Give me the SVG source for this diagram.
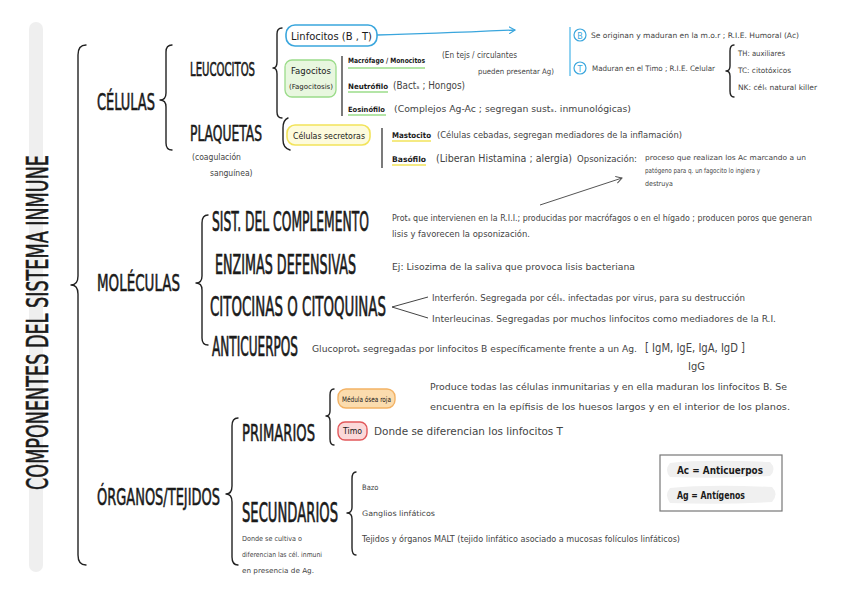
<svg xmlns="http://www.w3.org/2000/svg" width="848" height="599" viewBox="0 0 848 599">
<style>
.h{font-family:"DejaVu Sans Condensed","DejaVu Sans",sans-serif;font-stretch:condensed;fill:#1a1a1a;}
.k{font-family:"DejaVu Sans Condensed","DejaVu Sans",sans-serif;font-stretch:condensed;fill:#1a1a1a;stroke:#1a1a1a;stroke-width:0.35;}
.s{font-family:"DejaVu Sans Condensed","DejaVu Sans",sans-serif;font-stretch:condensed;fill:#444;}
.b{fill:none;stroke:#222;stroke-width:1.4;stroke-linecap:round;stroke-linejoin:round;}
.ln{stroke:#333;stroke-width:1.3;fill:none;}
</style>
<defs>
<marker id="ah" markerWidth="8" markerHeight="8" refX="6" refY="4" orient="auto" markerUnits="userSpaceOnUse"><path d="M0,0.5 L6,4 L0,7.5" fill="none" stroke="#555" stroke-width="1"/></marker>
<marker id="ahb" markerWidth="8" markerHeight="8" refX="6" refY="4" orient="auto" markerUnits="userSpaceOnUse"><path d="M0,0.5 L6,4 L0,7.5" fill="none" stroke="#3aa6dd" stroke-width="1.2"/></marker>
</defs>
<rect width="848" height="599" fill="#fff"/>
<rect x="29" y="22" width="14" height="550" rx="7" fill="#efefef"/>
<g id="title"><text class="k" transform="translate(48,490) rotate(-90) scale(1,1.55)" font-size="19.6" textLength="335" lengthAdjust="spacingAndGlyphs">COMPONENTES DEL SISTEMA INMUNE</text></g>

<g id="connectors">
<path class="b" d="M86,45 Q78,45 78,55 L78,276 Q78,285 71,285 Q78,285 78,294 L78,555 Q78,565 86,565"/>
<path class="b" d="M172,45 Q166,45 166,52 L166,93 Q166,100 160,100 Q166,100 166,107 L166,143 Q166,150 172,150"/>
<path class="b" d="M282,28 Q277,28 277,34 L277,62 Q277,68 273,68 Q277,68 277,74 L277,112 Q277,118 282,118"/>
<path class="b" d="M288,118 Q283,120 283,128 L283,140 Q283,148 290,150"/>
<line class="ln" x1="342" y1="56" x2="342" y2="116"/>
<line class="ln" x1="382" y1="128" x2="382" y2="168"/>
<line x1="570" y1="27" x2="570" y2="76" stroke="#6cc3ec" stroke-width="1.5"/>
<path class="b" d="M734,45 Q730,45 730,51 L730,66 Q730,71 726,71 Q730,71 730,76 L730,91 Q730,97 734,97"/>
<path d="M377,35 C420,34 470,32 515,30" fill="none" stroke="#3aa6dd" stroke-width="1.3" marker-end="url(#ahb)"/>
<path d="M540,205 L622,178" fill="none" stroke="#555" stroke-width="1" marker-end="url(#ah)"/>
<path class="b" d="M208,215 Q202,215 202,223 L202,276 Q202,283 196,283 Q202,283 202,290 L202,338 Q202,345 208,345"/>
<path d="M428,297 L392,307 L428,318" fill="none" stroke="#444" stroke-width="1"/>
<path class="b" d="M238,418 Q232,418 232,426 L232,486 Q232,494 226,494 Q232,494 232,502 L232,557 Q232,565 238,565"/>
<path class="b" d="M334,389 Q330,389 330,395 L330,411 Q330,416 326,416 Q330,416 330,421 L330,439 Q330,445 334,445"/>
<path class="b" d="M356,472 Q352,472 352,479 L352,507 Q352,513 347,513 Q352,513 352,519 L352,548 Q352,555 356,555"/>
<line x1="348" y1="68" x2="425" y2="68" stroke="#9bdc8a" stroke-width="1.5"/>
<line x1="348" y1="92" x2="388" y2="92" stroke="#9bdc8a" stroke-width="1.5"/>
<line x1="348" y1="115" x2="386" y2="115" stroke="#9bdc8a" stroke-width="1.5"/>
<line x1="392" y1="141" x2="431" y2="141" stroke="#f2e35a" stroke-width="1.5"/>
<line x1="392" y1="165" x2="426" y2="165" stroke="#f2e35a" stroke-width="1.5"/>
</g>

<g id="celulas"><text class="k" transform="translate(97,110) scale(1,1.63)" font-size="14.3" textLength="58" lengthAdjust="spacingAndGlyphs">CÉLULAS</text></g>
<g id="leucocitos"><text class="k" transform="translate(190,76) scale(1,1.8)" font-size="11.2" textLength="65" lengthAdjust="spacingAndGlyphs">LEUCOCITOS</text></g>
<g id="plaquetas"><text class="k" transform="translate(190,141) scale(1,1.55)" font-size="13.5" textLength="72" lengthAdjust="spacingAndGlyphs">PLAQUETAS</text>
<text class="s" x="192" y="160" font-size="8.5">(coagulación</text><text class="s" x="210" y="176" font-size="8.5">sanguínea)</text></g>

<g id="linfocitos"><rect x="286" y="25" width="91" height="21" rx="9" fill="#fff" stroke="#3aa6dd" stroke-width="1.6"/>
<text class="h" x="291" y="40" font-size="10.5" textLength="81" lengthAdjust="spacingAndGlyphs">Linfocitos    (B , T)</text></g>
<g id="fagocitos"><rect x="285" y="60" width="51" height="37" rx="7" fill="#e8f7df" stroke="#9bdc8a" stroke-width="1.3"/>
<text class="h" x="291" y="74" font-size="9" textLength="40" lengthAdjust="spacingAndGlyphs">Fagocitos</text><text class="h" x="289" y="89" font-size="7" textLength="44" lengthAdjust="spacingAndGlyphs">(Fagocitosis)</text></g>
<g id="macrofago"><text class="h" x="348" y="63" font-size="7.2" font-weight="bold" textLength="77" lengthAdjust="spacingAndGlyphs">Macrófago / Monocitos</text>
<text class="s" x="442" y="58" font-size="8" textLength="75" lengthAdjust="spacingAndGlyphs">(En tejs / circulantes</text>
<text class="s" x="478" y="74" font-size="7.5" textLength="76" lengthAdjust="spacingAndGlyphs">pueden presentar Ag)</text></g>
<g id="neutrofilo"><text class="h" x="348" y="89" font-size="7.4" font-weight="bold" textLength="40" lengthAdjust="spacingAndGlyphs">Neutrófilo</text>
<text class="s" x="393" y="89" font-size="10.5" textLength="72" lengthAdjust="spacingAndGlyphs">(Bactₛ ; Hongos)</text></g>
<g id="eosinofilo"><text class="h" x="348" y="112" font-size="7.2" font-weight="bold" textLength="37" lengthAdjust="spacingAndGlyphs">Eosinófilo</text>
<text class="s" x="394" y="112" font-size="9.5" textLength="237" lengthAdjust="spacingAndGlyphs">(Complejos Ag-Ac ; segregan sustₛ. inmunológicas)</text></g>

<g id="linfB"><circle cx="580" cy="35" r="6" fill="#fff" stroke="#3aa6dd" stroke-width="1.2"/><text x="580" y="38.5" font-size="8" text-anchor="middle" fill="#3aa6dd" font-family="DejaVu Sans,sans-serif">B</text>
<text class="s" x="591" y="38" font-size="7.5" textLength="208" lengthAdjust="spacingAndGlyphs">Se originan  y  maduran  en la m.o.r ; R.I.E. Humoral  (Ac)</text></g>
<g id="linfT"><circle cx="580" cy="68" r="6" fill="#fff" stroke="#3aa6dd" stroke-width="1.2"/><text x="580" y="71.5" font-size="8" text-anchor="middle" fill="#3aa6dd" font-family="DejaVu Sans,sans-serif">T</text>
<text class="s" x="592" y="71" font-size="7.5" textLength="123" lengthAdjust="spacingAndGlyphs">Maduran en el Timo ; R.I.E. Celular</text></g>
<g id="subtipos"><text class="s" x="738" y="56" font-size="7.5" textLength="47" lengthAdjust="spacingAndGlyphs">TH: auxiliares</text>
<text class="s" x="738" y="73" font-size="7.5" textLength="53" lengthAdjust="spacingAndGlyphs">TC: citotóxicos</text>
<text class="s" x="738" y="90" font-size="7.5" textLength="79" lengthAdjust="spacingAndGlyphs">NK: célₛ natural killer</text></g>

<g id="secretoras"><rect x="287" y="125" width="83" height="20" rx="8" fill="#fdfbdc" stroke="#f2e35a" stroke-width="1.6"/>
<text class="h" x="293" y="139" font-size="8.5" textLength="72" lengthAdjust="spacingAndGlyphs">Células   secretoras</text></g>
<g id="mastocito"><text class="h" x="392" y="138" font-size="7.8" font-weight="bold" textLength="39" lengthAdjust="spacingAndGlyphs">Mastocito</text>
<text class="s" x="437" y="138" font-size="9.5" textLength="245" lengthAdjust="spacingAndGlyphs">(Células cebadas, segregan mediadores de la inflamación)</text></g>
<g id="basofilo"><text class="h" x="392" y="162" font-size="7.8" font-weight="bold" textLength="34" lengthAdjust="spacingAndGlyphs">Basófilo</text>
<text class="s" x="436" y="162" font-size="10.5" textLength="136" lengthAdjust="spacingAndGlyphs">(Liberan Histamina ; alergia)</text>
<text class="s" x="577" y="162" font-size="9.5" textLength="60" lengthAdjust="spacingAndGlyphs">Opsonización:</text>
<text class="s" x="645" y="160" font-size="7" textLength="161" lengthAdjust="spacingAndGlyphs">proceso que realizan los Ac marcando a un</text>
<text class="s" x="645" y="173" font-size="7" textLength="115" lengthAdjust="spacingAndGlyphs">patógeno para q. un fagocito lo ingiera y</text>
<text class="s" x="645" y="186" font-size="7">destruya</text></g>

<g id="moleculas"><text class="k" transform="translate(97,291) scale(1,1.55)" font-size="15" textLength="83" lengthAdjust="spacingAndGlyphs">MOLÉCULAS</text></g>
<g id="complemento"><text class="k" transform="translate(212,231) scale(1,1.95)" font-size="13.6" textLength="157" lengthAdjust="spacingAndGlyphs">SIST. DEL COMPLEMENTO</text>
<text class="s" x="392" y="221" font-size="8.3" textLength="420" lengthAdjust="spacingAndGlyphs">Protₛ que intervienen en la R.I.I.; producidas por macrófagos o en el hígado ; producen poros que generan</text>
<text class="s" x="392" y="237" font-size="8.3" textLength="138" lengthAdjust="spacingAndGlyphs">lisis y favorecen la opsonización.</text></g>
<g id="enzimas"><text class="k" transform="translate(215,274) scale(1,1.85)" font-size="14.1" textLength="141" lengthAdjust="spacingAndGlyphs">ENZIMAS DEFENSIVAS</text>
<text class="s" x="392" y="270" font-size="9.5" textLength="243" lengthAdjust="spacingAndGlyphs">Ej: Lisozima de la saliva que provoca lisis bacteriana</text></g>
<g id="citocinas"><text class="k" transform="translate(210,316) scale(1,1.75)" font-size="14.9" textLength="176" lengthAdjust="spacingAndGlyphs">CITOCINAS O CITOQUINAS</text></g>
<g id="interferon"><text class="s" x="432" y="301" font-size="9.3" textLength="313" lengthAdjust="spacingAndGlyphs">Interferón. Segregada por célₛ. infectadas por virus, para su destrucción</text></g>
<g id="interleucinas"><text class="s" x="432" y="322" font-size="9.3" textLength="344" lengthAdjust="spacingAndGlyphs">Interleucinas. Segregadas por muchos linfocitos como mediadores de la R.I.</text></g>
<g id="anticuerpos"><text class="k" transform="translate(212,356) scale(1,1.95)" font-size="13.4" textLength="86" lengthAdjust="spacingAndGlyphs">ANTICUERPOS</text>
<text class="s" x="312" y="352" font-size="9.3" textLength="325" lengthAdjust="spacingAndGlyphs">Glucoprotₛ segregadas por linfocitos B específicamente frente a un Ag.</text>
<text class="s" x="645" y="352" font-size="11.5" textLength="100" lengthAdjust="spacingAndGlyphs">[ IgM, IgE, IgA, IgD ]</text>
<text class="s" x="688" y="370" font-size="11">IgG</text></g>

<g id="organos"><text class="k" transform="translate(97,505) scale(1,1.6)" font-size="14.4" textLength="123" lengthAdjust="spacingAndGlyphs">ÓRGANOS/TEJIDOS</text></g>
<g id="primarios"><text class="k" transform="translate(242,441) scale(1,1.6)" font-size="14.6" textLength="73" lengthAdjust="spacingAndGlyphs">PRIMARIOS</text></g>
<g id="medula"><rect x="338" y="389" width="57" height="19" rx="8" fill="#fbdcae" stroke="#f3b264" stroke-width="1.4"/>
<text class="h" x="342" y="402" font-size="7.5" textLength="49" lengthAdjust="spacingAndGlyphs">Médula ósea roja</text>
<text class="s" x="430" y="390" font-size="9" textLength="357" lengthAdjust="spacingAndGlyphs">Produce todas las células inmunitarias y en ella maduran los linfocitos B. Se</text>
<text class="s" x="430" y="410" font-size="9" textLength="360" lengthAdjust="spacingAndGlyphs">encuentra en la epífisis de los huesos largos y en el interior de los planos.</text></g>
<g id="timo"><rect x="338" y="422" width="29" height="18" rx="7" fill="#fbd9d9" stroke="#e2585b" stroke-width="1.4"/>
<text class="h" x="343" y="434" font-size="8" textLength="19" lengthAdjust="spacingAndGlyphs">Timo</text>
<text class="s" x="374" y="435" font-size="10" textLength="189" lengthAdjust="spacingAndGlyphs">Donde se diferencian los linfocitos T</text></g>
<g id="secundarios"><text class="k" transform="translate(242,522) scale(1,1.8)" font-size="14.6" textLength="96" lengthAdjust="spacingAndGlyphs">SECUNDARIOS</text>
<text class="s" x="242" y="541" font-size="7" textLength="60" lengthAdjust="spacingAndGlyphs">Donde se cultiva o</text>
<text class="s" x="242" y="557" font-size="7" textLength="80" lengthAdjust="spacingAndGlyphs">diferencian las cél. inmuni</text>
<text class="s" x="242" y="573" font-size="7" textLength="72" lengthAdjust="spacingAndGlyphs">en presencia de Ag.</text></g>
<g id="bazo"><text class="s" x="362" y="490" font-size="7.5">Bazo</text></g>
<g id="ganglios"><text class="s" x="362" y="516" font-size="7.5" textLength="73" lengthAdjust="spacingAndGlyphs">Ganglios linfáticos</text></g>
<g id="malt"><text class="s" x="362" y="542" font-size="8" textLength="318" lengthAdjust="spacingAndGlyphs">Tejidos y órganos MALT (tejido linfático asociado a mucosas folículos linfáticos)</text></g>

<g id="leyenda"><rect x="660" y="455" width="122" height="56" fill="#fff" stroke="#777" stroke-width="1.2"/>
<path d="M670,463 Q700,459 770,462 Q777,469 770,476 Q720,479 670,477 Q664,470 670,463 Z" fill="#f0f0f0"/>
<path d="M670,488 Q710,484 772,487 Q779,494 772,502 Q720,505 670,503 Q664,495 670,488 Z" fill="#f0f0f0"/>
<text class="h" x="677" y="474" font-size="10.5" font-weight="bold" textLength="86" lengthAdjust="spacingAndGlyphs">Ac = Anticuerpos</text>
<text class="h" x="677" y="499" font-size="10.5" font-weight="bold" textLength="68" lengthAdjust="spacingAndGlyphs">Ag = Antígenos</text></g>
</svg>
